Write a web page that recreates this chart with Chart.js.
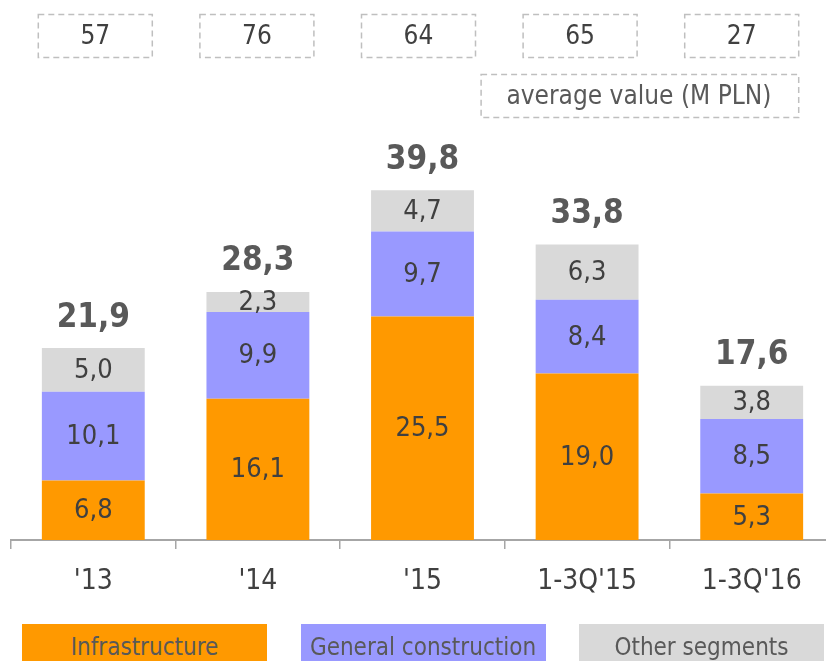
<!DOCTYPE html>
<html>
<head>
<meta charset="utf-8">
<script src="https://cdn.jsdelivr.net/npm/chart.js@4.4.1/dist/chart.umd.min.js"></script>
<style>
  body { margin: 0; background: #fff; overflow: hidden; }
  #wrap { position: relative; width: 826px; height: 661px; overflow: hidden; }
  #chart { position: absolute; left: 0; top: 0; }
  .leg { position: absolute; top: 624px; width: 245px; height: 46px; line-height: 46px;
         text-align: center; font-size: 24px; color: #595959;
         font-family: "DejaVu Sans Condensed", "DejaVu Sans", sans-serif; }
</style>
</head>
<body>
<div id="wrap">
  <canvas id="chart" width="834" height="661"></canvas>
</div>
<script>
// Data
var categories = ["'13", "'14", "'15", "1-3Q'15", "1-3Q'16"]
var infrastructure = [6.8, 16.1, 25.5, 19.0, 5.3]
var generalConstruction = [10.1, 9.9, 9.7, 8.4, 8.5]
var otherSegments = [5.0, 2.3, 4.7, 6.3, 3.8]
var totals = [21.9, 28.3, 39.8, 33.8, 17.6]
var averageValues = [57, 76, 64, 65, 27]
var averageLabel = 'average value (M PLN)'
var seriesNames = ['Infrastructure', 'General construction', 'Other segments']
var seriesColors = ['#FF9900', '#9999FF', '#D9D9D9']

var FONT = '"DejaVu Sans Condensed", "DejaVu Sans", sans-serif'
var fmt = v => v.toFixed(1).replace('.', ',')

// Legend boxes under the chart
var wrap = document.getElementById('wrap')
seriesNames.forEach((name, i) => {
    var d = document.createElement('div')
    d.className = 'leg'
    d.style.left = (22 + i * 278.5) + 'px'
    d.style.background = seriesColors[i]
    d.textContent = name
    wrap.appendChild(d)
})

const labelPlugin = {
    id: 'labels',
    afterDatasetsDraw(chart) {
        const ctx = chart.ctx
        ctx.save()
        ctx.textAlign = 'center'
        ctx.textBaseline = 'middle'

        // segment values
        ctx.font = '27px ' + FONT
        ctx.fillStyle = '#404040'
        chart.data.datasets.forEach((ds, di) => {
            chart.getDatasetMeta(di).data.forEach((bar, i) => {
                ctx.fillText(fmt(ds.data[i]), bar.x, (bar.y + bar.base) / 2 + 1)
            })
        })

        // totals above stacks
        const topMeta = chart.getDatasetMeta(chart.data.datasets.length - 1)
        ctx.font = 'bold 33px ' + FONT
        ctx.fillStyle = '#595959'
        topMeta.data.forEach((bar, i) => {
            ctx.fillText(fmt(totals[i]), bar.x, bar.y - 30)
        })

        // dashed boxes with average values
        const xs = chart.scales.x
        ctx.setLineDash([6, 4])
        ctx.strokeStyle = '#BFBFBF'
        ctx.lineWidth = 1.5
        ctx.font = '26px ' + FONT
        ctx.fillStyle = '#404040'
        averageValues.forEach((v, i) => {
            const cx = xs.getPixelForValue(i) + 2 - 3 * i
            ctx.strokeRect(cx - 57, 14.5, 114, 43)
            ctx.fillText(String(v), cx, 37)
        })
        const x0 = xs.getPixelForValue(3) - 106
        const x1 = xs.getPixelForValue(4) + 47
        ctx.strokeRect(x0, 74.5, x1 - x0, 43)
        ctx.fillStyle = '#595959'
        ctx.font = '26px ' + FONT
        ctx.fillText(averageLabel, (x0 + x1) / 2 - 1, 97)
        ctx.restore()
    }
}

new Chart(document.getElementById('chart'), {
    type: 'bar',
    data: {
        labels: categories,
        datasets: [
            { label: seriesNames[0], data: infrastructure, backgroundColor: seriesColors[0] },
            { label: seriesNames[1], data: generalConstruction, backgroundColor: seriesColors[1] },
            { label: seriesNames[2], data: otherSegments, backgroundColor: seriesColors[2] }
        ]
    },
    options: {
        responsive: false,
        animation: false,
        devicePixelRatio: 1,
        datasets: { bar: { categoryPercentage: 1, barPercentage: 0.625 } },
        layout: { padding: { left: 11, right: 0, top: 0, bottom: 0 } },
        plugins: { legend: { display: false }, tooltip: { enabled: false } },
        scales: {
            x: {
                stacked: true,
                grid: { offset: true, drawOnChartArea: false, drawTicks: true, tickLength: 9, color: '#A6A6A6', lineWidth: 1.5 },
                border: { display: true, color: '#A6A6A6', width: 2 },
                ticks: { color: '#404040', font: { size: 28, family: FONT }, padding: 16, maxRotation: 0 },
                afterFit(scale) { scale.height = 121 }
            },
            y: { stacked: true, display: false, min: 0, max: 61.6 }
        }
    },
    plugins: [labelPlugin]
})
</script>
</body>
</html>
